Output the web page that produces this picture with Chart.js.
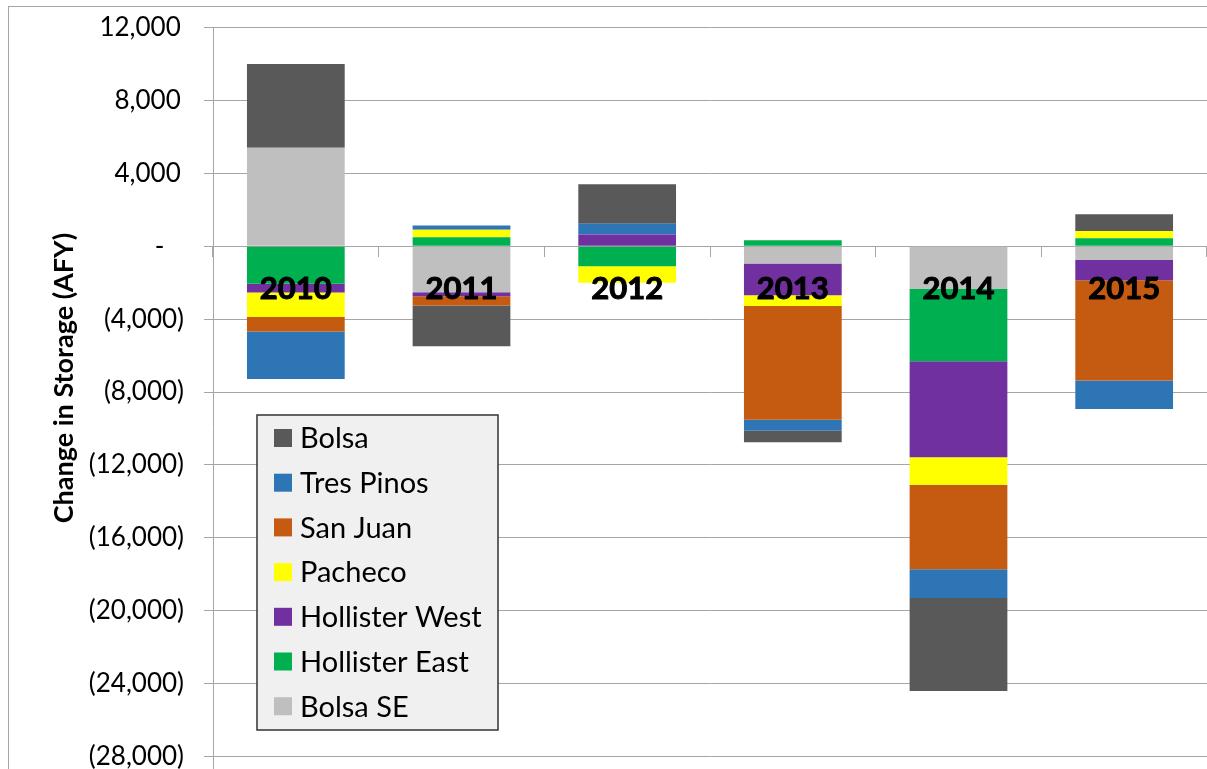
<!DOCTYPE html>
<html>
<head>
<meta charset="utf-8">
<script src="https://cdn.jsdelivr.net/npm/chart.js@4.4.0/dist/chart.umd.min.js"></script>
<style>
    html, body { margin: 0; padding: 0; overflow: hidden; background: #fff; }
    #frame {
        position: absolute;
        left: 8px;
        top: 6px;
        width: 1215px;
        height: 880px;
        border-left: 1px solid #a6a6a6;
        border-top: 1px solid #a6a6a6;
    }
    #myStorageChart { display: block; position: absolute; left: 0; top: -15px; }
</style>
</head>
<body>
<div id="frame">
    <canvas id="myStorageChart" width="1215" height="873"></canvas>
</div>
<script>
let years = ['2010', '2011', '2012', '2013', '2014', '2015'];

// change in storage (AFY) per subarea, stacking order from the zero line outward
let bolsaSE = [5400, -2520, 0, -950, -2340, -750];
let hollisterEast = [-2050, 500, -1100, 330, -3970, 440];
let hollisterWest = [-480, -220, 640, -1740, -5270, -1110];
let pacheco = [-1350, 400, -900, -590, -1500, 400];
let sanJuan = [-800, -510, 0, -6240, -4650, -5500];
let tresPinos = [-2600, 240, 600, -600, -1570, -1570];
let bolsa = [4600, -2230, 2160, -640, -5100, 915];

let yTicks = [12000, 8000, 4000, 0, -4000, -8000, -12000, -16000, -20000, -24000, -28000, -32000];

function accounting(v) {
    if (v === 0) return '-\u2002\u2005';
    let s = Math.abs(v).toLocaleString('en-US');
    return v < 0 ? '(' + s + ')' : s + '\u2009';
}

let yTitle = {
    id: 'yTitle',
    afterDraw(chart) {
        let c = chart.ctx;
        c.save();
        c.translate(55, 386);
        c.rotate(-Math.PI / 2);
        c.font = 'bold 27px Lato';
        c.fillStyle = '#000';
        c.textAlign = 'center';
        c.textBaseline = 'middle';
        c.fillText('Change in Storage (AFY)', 0, 0);
        c.restore();
    }
};

let boxLegend = {
    id: 'boxLegend',
    afterDraw(chart) {
        let c = chart.ctx;
        let sets = chart.data.datasets.slice().reverse();
        c.save();
        c.fillStyle = '#f0f0f0';
        c.fillRect(248, 423, 241, 315);
        c.strokeStyle = '#333';
        c.lineWidth = 1.5;
        c.strokeRect(248, 423, 241, 315);
        c.font = '29px Lato';
        c.textBaseline = 'middle';
        sets.forEach(function (ds, i) {
            let cy = 446 + i * 44.7;
            c.fillStyle = ds.backgroundColor;
            c.fillRect(265, cy - 9, 18, 18);
            c.fillStyle = '#000';
            c.fillText(ds.label, 291, cy + 1);
        });
        c.restore();
    }
};

let ctx = document.getElementById('myStorageChart').getContext('2d');
let myStorageChart = new Chart(ctx, {
    type: 'bar',
    data: {
        labels: years,
        datasets: [
            { label: 'Bolsa SE', data: bolsaSE, backgroundColor: '#bfbfbf' },
            { label: 'Hollister East', data: hollisterEast, backgroundColor: '#00b050' },
            { label: 'Hollister West', data: hollisterWest, backgroundColor: '#7030a0' },
            { label: 'Pacheco', data: pacheco, backgroundColor: '#ffff00' },
            { label: 'San Juan', data: sanJuan, backgroundColor: '#c55a11' },
            { label: 'Tres Pinos', data: tresPinos, backgroundColor: '#2e75b6' },
            { label: 'Bolsa', data: bolsa, backgroundColor: '#595959' },
        ]
    },
    options: {
        responsive: false,
        animation: false,
        layout: { padding: { left: 0, right: 17, top: 0, bottom: 0 } },
        datasets: {
            bar: { categoryPercentage: 1, barPercentage: 0.59, borderWidth: 0 }
        },
        plugins: {
            legend: { display: false },
            tooltip: { enabled: false },
        },
        scales: {
            x: {
                stacked: true,
                position: { y: 0 },
                offset: true,
                border: { display: false },
                grid: {
                    offset: true,
                    drawOnChartArea: false,
                    drawTicks: true,
                    tickLength: 11,
                    color: '#a6a6a6',
                },
                ticks: {
                    z: 1,
                    color: '#000',
                    padding: 13,
                    textStrokeColor: '#000',
                    textStrokeWidth: 1,
                    font: { family: 'Lato', size: 31, weight: 'bold' },
                },
            },
            y: {
                stacked: true,
                min: -32000,
                max: 12000,
                afterFit: function (scale) { scale.width = 204; },
                afterBuildTicks: function (scale) {
                    scale.ticks = yTicks.map(function (v) { return { value: v }; });
                },
                border: { display: true, color: '#a6a6a6' },
                grid: { color: '#a6a6a6', tickLength: 9 },
                ticks: {
                    color: '#000',
                    padding: 20,
                    font: { family: 'Lato', size: 26 },
                    callback: function (v) { return accounting(v); },
                },
            },
        },
    },
    plugins: [yTitle, boxLegend],
});
</script>
</body>
</html>
